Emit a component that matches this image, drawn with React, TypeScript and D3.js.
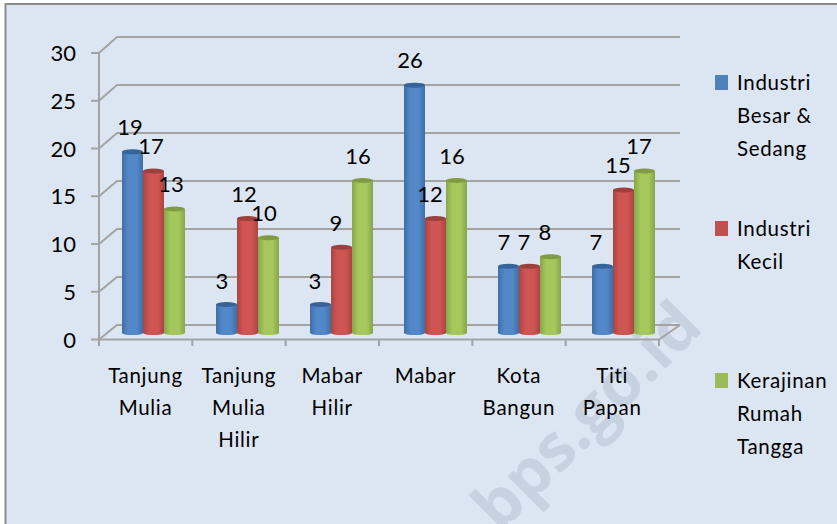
import React from "react";
import * as d3 from "d3";

const categories = [["Tanjung", "Mulia"], ["Tanjung", "Mulia", "Hilir"], ["Mabar", "Hilir"], ["Mabar"], ["Kota", "Bangun"], ["Titi", "Papan"]];
const besar = [19, 3, 3, 26, 7, 7];
const kecil = [17, 12, 9, 12, 7, 15];
const kerajinan = [13, 10, 16, 16, 8, 17];
const yTicks = [0, 5, 10, 15, 20, 25, 30];
const seriesNames = [["Industri", "Besar &", "Sedang"], ["Industri", "Kecil"], ["Kerajinan", "Rumah", "Tangga"]];
const seriesValues = [besar, kecil, kerajinan];
const colors = [
  { id: "b", edge: "#3f6ea6", mid: "#5288c8", top: "#35639a", legend: "#4f81bd" },
  { id: "r", edge: "#a84543", mid: "#cf5552", top: "#9a403d", legend: "#c0504d" },
  { id: "g", edge: "#86a64a", mid: "#a5c75c", top: "#7f9c44", legend: "#9bbb59" },
];
const FONT = "Lato, 'Open Sans', sans-serif";

export default function App() {
  const x = d3.scaleLinear().domain([0, 6]).range([99, 659]);
  const xBar = d3.scaleLinear().domain([0, 5]).range([122, 592]);
  const yFront = d3.scaleLinear().domain([0, 30]).range([339.5, 53]);
  const yBack = d3.scaleLinear().domain([0, 30]).range([325, 37]);
  const yBar = d3.scaleLinear().domain([0, 30]).range([333, 47]);
  const band = d3.scaleBand().domain(["0", "1", "2"]).range([0, 63]);
  const dx = 18;
  const backRight = 680;
  const labelOffsets: Record<string, [number, number]> = {
    "0-0": [-2.5, -17], "0-1": [-2.5, -17], "0-2": [-3.5, -17],
    "1-0": [-4.5, -15], "1-1": [-3.5, -17], "1-2": [-4.5, -17],
    "2-0": [-5.5, -15], "2-1": [-5.5, -16], "2-2": [-4.5, -16],
    "3-0": [-4.5, -17], "3-1": [-5.5, -17], "3-2": [-4.5, -16],
    "4-0": [-4.5, -16], "4-1": [-5.5, -16], "4-2": [-5.5, -17],
    "5-0": [-6.5, -16], "5-1": [-5.5, -17], "5-2": [-5.5, -17],
  };
  const legendY = [[79, 112, 145], [225, 258], [377, 410, 443]];
  return (
    <svg width={837} height={524} style={{ position: "absolute", left: 0, top: 0 }} fontFamily={FONT}>
      <defs>
        {colors.map((c) => (
          <linearGradient key={c.id} id={c.id} x1="0" x2="1" y1="0" y2="0">
            <stop offset="0" stopColor={c.edge} />
            <stop offset="0.3" stopColor={c.mid} />
            <stop offset="0.7" stopColor={c.mid} />
            <stop offset="1" stopColor={c.edge} />
          </linearGradient>
        ))}
      </defs>
      <rect x={0} y={0} width={837} height={524} fill="#fff" />
      <rect x={5.5} y={4} width={840} height={530} fill="#dce6f2" stroke="#8c8c8c" strokeWidth={2} />
      <text transform="translate(500,534) rotate(-45)" fontSize={65} fontWeight={700} fontFamily="'Open Sans', sans-serif" fill="#c7d2e1">bps.go.id</text>

      {yTicks.map((t) => (
        <path key={t} d={`M${x(0) - 8},${yFront(t)}H${x(0)}L${x(0) + dx},${yBack(t)}H${backRight}`} stroke="#a3a3a3" strokeWidth={2} fill="none" />
      ))}
      <path d={`M${x(0)},${yFront(30)}V${yFront(0)}H${x(6)}L${backRight},${yBack(0)}`} stroke="#a3a3a3" strokeWidth={2} fill="none" />
      {d3.range(7).map((i) => (
        <line key={i} x1={x(i)} x2={x(i)} y1={339} y2={346} stroke="#a3a3a3" strokeWidth={2} />
      ))}
      {yTicks.map((t) => (
        <text key={t} x={76} y={yFront(t) + 8} textAnchor="end" fontSize={22} fill="#000">{t}</text>
      ))}

      {seriesValues.map((vals, s) =>
        vals.map((v, i) => {
          const bx = xBar(i) + (band(String(s)) as number);
          const w = band.bandwidth();
          const top = yBar(v);
          const base = yBar(0);
          return (
            <g key={`${s}-${i}`}>
              <path d={`M${bx},${top}V${base}A${w / 2},2 0 0 0 ${bx + w},${base}V${top}Z`} fill={`url(#${colors[s].id})`} />
              <ellipse cx={bx + w / 2} cy={top} rx={w / 2} ry={2.5} fill={colors[s].top} />
            </g>
          );
        })
      )}
      {seriesValues.map((vals, s) =>
        vals.map((v, i) => {
          const bx = xBar(i) + (band(String(s)) as number) + band.bandwidth() / 2;
          const [ox, oy] = labelOffsets[`${i}-${s}`];
          return (
            <text key={`${s}-${i}`} x={bx + ox} y={yBar(v) + oy} textAnchor="middle" fontSize={22} fill="#000">{v}</text>
          );
        })
      )}

      {categories.map((lines, i) =>
        lines.map((l, j) => (
          <text key={l + j} x={x(i) + 46.5} y={383 + j * 32} textAnchor="middle" fontSize={20.5} letterSpacing={0.7} fill="#000">{l}</text>
        ))
      )}

      {seriesNames.map((lines, s) => (
        <g key={s}>
          <rect x={715} y={legendY[s][0] - 4} width={13} height={15} fill={colors[s].legend} />
          {lines.map((l, j) => (
            <text key={j} x={737} y={legendY[s][j] + 11} fontSize={20.5} letterSpacing={0.7} fill="#000">{l}</text>
          ))}
        </g>
      ))}
    </svg>
  );
}
